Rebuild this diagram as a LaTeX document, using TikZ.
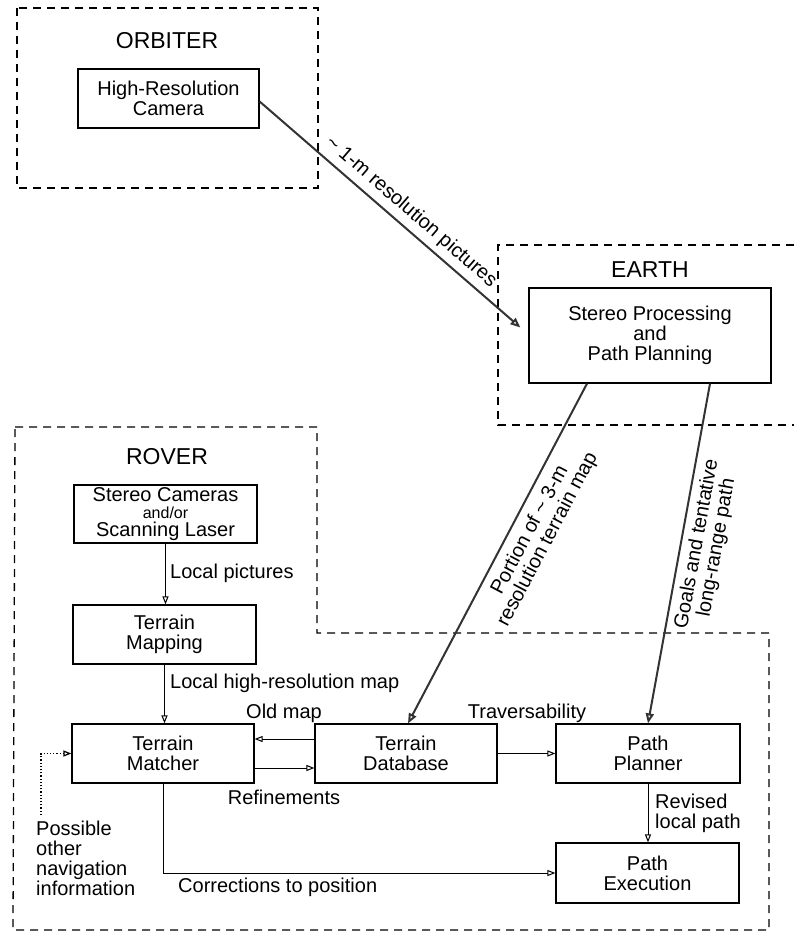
\documentclass[tikz,border=0pt]{standalone}
\usepackage{fontspec}
\setmainfont{Liberation Sans}
\usetikzlibrary{arrows.meta,calc}
\begin{document}
\begin{tikzpicture}[x=1pt,y=-1pt,
  font=\fontsize{20}{20}\selectfont,
  blk/.style={draw,line width=1.2pt,inner sep=0pt,align=center},
  zone/.style={draw,line width=1.3pt,dash pattern=on 8pt off 6pt},
  title/.style={inner sep=0pt,font=\fontsize{23}{23}\selectfont},
  flow/.style={line width=1pt,-{Triangle[open,length=8pt,width=6pt]}},
  link/.style={line width=2pt,black!80,-{Triangle[open,length=10pt,width=8pt]}},
  lbl/.style={inner sep=0pt,align=center},
]
\useasboundingbox (0,0) rectangle (794,933);

% ---- dashed zones ----
\draw[zone] (17,8) rectangle (318,188);
\draw[zone] (794,245) -- (498,245) -- (498,425) -- (794,425);
\draw[zone] (15,427) -- (317,427) -- (317,633) -- (769,633) -- (769,930) -- (13,930) -- cycle;

\node[title] (torb) at (167,41) {ORBITER};
\node[title] (tear) at (650,270) {EARTH};
\node[title] (trov) at (167,457) {ROVER};

% ---- blocks ----
\node[blk,minimum width=181pt,minimum height=59pt] (cam) at (168.5,98.5) {High-Resolution\\Camera};
\node[blk,minimum width=242pt,minimum height=95pt] (stereo) at (650,335.5) {Stereo Processing\\and\\Path Planning};
\node[blk,minimum width=183pt,minimum height=58pt] (sc) at (165.5,514) {Stereo Cameras\\[-3pt]{\fontsize{16}{16}\selectfont and/or}\\[-2pt]Scanning Laser};
\node[blk,minimum width=183pt,minimum height=59pt] (tmap) at (164.5,634.5) {Terrain\\Mapping};
\node[blk,minimum width=182pt,minimum height=59pt] (tmatch) at (163,753.5) {Terrain\\Matcher};
\node[blk,minimum width=182pt,minimum height=59pt] (tdb) at (406,753.5) {Terrain\\Database};
\node[blk,minimum width=184pt,minimum height=59pt] (plan) at (648,753.5) {Path\\Planner};
\node[blk,minimum width=183pt,minimum height=60pt] (exec) at (647.5,873) {Path\\Execution};

% ---- long links between zones ----
\draw[link] ($(cam.east)+(0,3)$) -- ($(stereo.west)+(-8,-8)$);
\draw[link] ($(stereo.south)+(-63,0)$) -- ($(tdb.north)+(2,0)$);
\draw[link] ($(stereo.south)+(60,0)$) -- (plan.north);

\node[lbl,rotate=-40.9] (l1) at (411,212) {\textasciitilde{} 1-m resolution pictures};
\node[lbl,rotate=62.2] (l2) at (539,535) {Portion of \textasciitilde{} 3-m\\resolution terrain map};
\node[lbl,rotate=79.7] (l3) at (707,546) {Goals and tentative\\long-range path};

% ---- rover data flow ----
\draw[flow] (sc.south) -- (sc.south |- tmap.north);
\draw[flow] (tmap.south) -- (tmap.south |- tmatch.north);
\draw[flow] ($(tdb.west)+(0,-14.5)$) -- ($(tmatch.east)+(0,-14.5)$);
\draw[flow] ($(tmatch.east)+(0,14.5)$) -- ($(tdb.west)+(0,14.5)$);
\draw[flow] (tdb.east) -- (plan.west);
\draw[flow] (plan.south) -- (plan.south |- exec.north);
\draw[flow] (tmatch.south) |- (exec.west);
\coordinate (nav) at (41,815);
\draw[line width=1.2pt,dotted,-{Triangle[open,length=8pt,width=6pt]}] (nav) |- (tmatch.west);

\node[lbl,anchor=west] (lp) at (170,573) {Local pictures};
\node[lbl,anchor=west] (lh) at (170,683) {Local high-resolution map};
\node[lbl] (lo) at (284,713) {Old map};
\node[lbl] (lr) at (284,797) {Refinements};
\node[lbl] (lt) at (527,713) {Traversability};
\node[lbl,anchor=west,align=left] (lv) at (655,813) {Revised\\local path};
\node[lbl,anchor=west] (lc) at (178,887) {Corrections to position};
\node[lbl,anchor=west,align=left] (ln) at (36,858.5) {Possible\\other\\navigation\\information};
\end{tikzpicture}
\end{document}
